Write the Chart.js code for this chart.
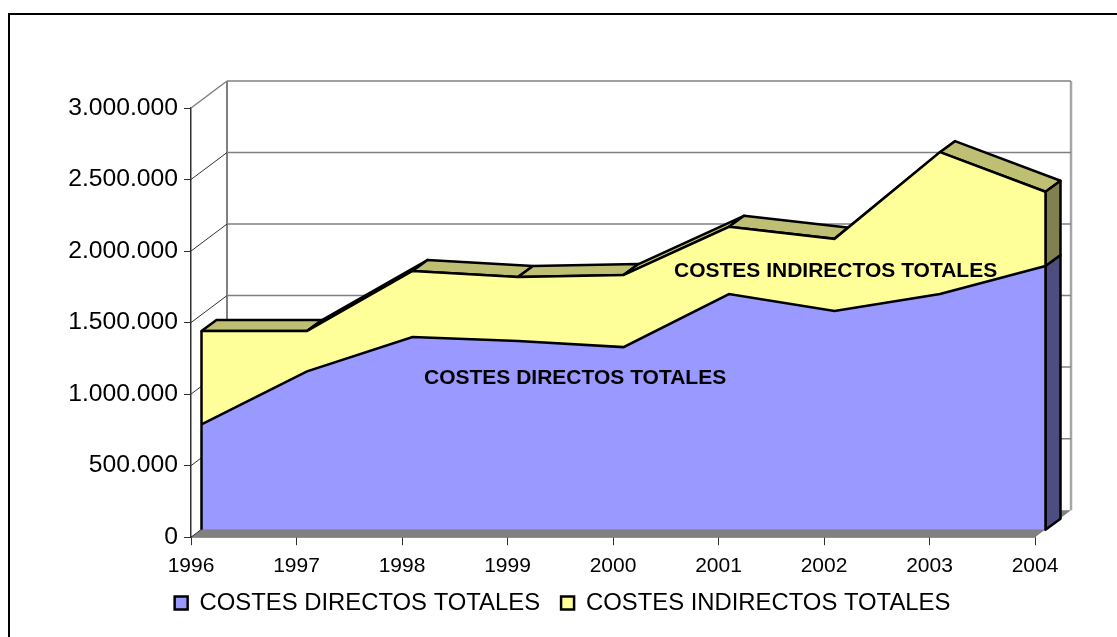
<!DOCTYPE html>
<html lang="es">
<head>
  <meta charset="UTF-8">
  <title>Costes totales</title>
  <script src="https://cdn.jsdelivr.net/npm/chart.js"></script>
  <style>
    html, body { margin: 0; padding: 0; background: #fff; overflow: hidden; }
    #frame { position: absolute; left: 8px; top: 13px; width: 1117px; height: 637px; border: 2px solid #000; box-sizing: border-box; }
    #wrap { position: absolute; left: 0; top: 0; width: 1117px; height: 637px; }
  </style>
</head>
<body>
  <div id="frame"></div>
  <div id="wrap"><canvas id="costes"></canvas></div>

  <script>
    const years = ['1996', '1997', '1998', '1999', '2000', '2001', '2002', '2003', '2004'];
    const costesDirectos = [736000, 1107000, 1346000, 1318000, 1276000, 1647000, 1528000, 1647000, 1843000];
    const costesIndirectos = [652000, 281000, 462000, 448000, 504000, 470000, 505000, 992000, 519000];
    const yTicks = [0, 500000, 1000000, 1500000, 2000000, 2500000, 3000000];

    // 3D look: wall depth, front of the areas, thickness of the areas
    const WALL = { x: 36, y: -27 };
    const FRONT = { x: 10.5, y: -7.5 };
    const SLAB = { x: 15, y: -11 };

    function formatEs(v) {
      return String(v).replace(/\B(?=(\d{3})+$)/g, '.');
    }

    function poly(ctx, pts, fill, stroke, lw) {
      ctx.beginPath();
      pts.forEach((p, i) => i ? ctx.lineTo(p[0], p[1]) : ctx.moveTo(p[0], p[1]));
      ctx.closePath();
      if (fill) { ctx.fillStyle = fill; ctx.fill(); }
      if (stroke) { ctx.strokeStyle = stroke; ctx.lineWidth = lw; ctx.lineJoin = 'round'; ctx.stroke(); }
    }

    function line(ctx, x1, y1, x2, y2, color, lw) {
      ctx.beginPath();
      ctx.moveTo(x1, y1);
      ctx.lineTo(x2, y2);
      ctx.strokeStyle = color;
      ctx.lineWidth = lw;
      ctx.stroke();
    }

    const box3d = {
      id: 'box3d',
      afterLayout(chart) {
        // legend is centred on the whole picture, not on the plot
        chart.legend.left = 45;
        chart.legend.right = 45 + 1035;
        chart.legend.top -= 12;
        chart.legend.bottom -= 12;
      },
      beforeDatasetsDraw(chart) {
        const ctx = chart.ctx;
        const { left, right, bottom } = chart.chartArea;
        const y = chart.scales.y;
        ctx.save();

        // floor
        poly(ctx, [[left, bottom], [right, bottom], [right + WALL.x, bottom + WALL.y], [left + WALL.x, bottom + WALL.y]], '#808080');

        // walls and grid
        line(ctx, left + WALL.x, bottom + WALL.y, left + WALL.x, y.getPixelForValue(3000000) + WALL.y, '#808080', 2);
        line(ctx, right + WALL.x, bottom + WALL.y, right + WALL.x, y.getPixelForValue(3000000) + WALL.y, '#a6a6a6', 2.5);
        yTicks.forEach(v => {
          const py = y.getPixelForValue(v);
          if (v > 0) line(ctx, left + WALL.x, py + WALL.y, right + WALL.x, py + WALL.y, '#808080', 1.5);
          line(ctx, left, py, left + WALL.x, py + WALL.y, v === 3000000 ? '#808080' : '#303030', v === 3000000 ? 1.5 : 1);
        });
        ctx.restore();

        // top faces and right side of each area, then the fronts shifted by FRONT
        const low = chart.getDatasetMeta(0).data;
        const top = chart.getDatasetMeta(1).data;
        ctx.save();
        ctx.translate(FRONT.x, FRONT.y);
        for (let i = 0; i < top.length - 1; i++) {
          const a = top[i], b = top[i + 1];
          poly(ctx, [[a.x, a.y], [b.x, b.y], [b.x + SLAB.x, b.y + SLAB.y], [a.x + SLAB.x, a.y + SLAB.y]], '#bfbf73', '#000', 2.5);
        }
        const n = top.length - 1;
        const ex = low[n].x, by = y.getPixelForValue(0);
        poly(ctx, [[ex, by], [ex, low[n].y], [ex + SLAB.x, low[n].y + SLAB.y], [ex + SLAB.x, by + SLAB.y]], '#4d4d80', '#000', 2.5);
        poly(ctx, [[ex, low[n].y], [ex, top[n].y], [ex + SLAB.x, top[n].y + SLAB.y], [ex + SLAB.x, low[n].y + SLAB.y]], '#808050', '#000', 2.5);
      },
      afterDatasetsDraw(chart) {
        const ctx = chart.ctx;
        const top = chart.getDatasetMeta(1).data;
        const y = chart.scales.y;
        const n = top.length - 1;
        const by = y.getPixelForValue(0);
        // side edges of the front face
        line(ctx, top[0].x, by, top[0].x, top[0].y, '#000', 2.5);
        line(ctx, top[n].x, by, top[n].x, top[n].y, '#000', 2.5);
        ctx.restore();

        // names written on the areas
        ctx.save();
        ctx.fillStyle = '#000';
        ctx.font = 'bold 21px "Liberation Sans", Arial, sans-serif';
        ctx.textBaseline = 'middle';
        ctx.fillText('COSTES DIRECTOS TOTALES', 424, 378);
        ctx.fillText('COSTES INDIRECTOS TOTALES', 674, 271);
        ctx.restore();
      }
    };

    new Chart(document.getElementById('costes'), {
      type: 'line',
      plugins: [box3d],
      data: {
        labels: years,
        datasets: [
          { label: 'COSTES DIRECTOS TOTALES', data: costesDirectos, backgroundColor: '#9999ff', borderColor: '#000', borderWidth: 2.5, fill: 'origin', pointRadius: 0, tension: 0, clip: false },
          { label: 'COSTES INDIRECTOS TOTALES', data: costesIndirectos, backgroundColor: '#ffff99', borderColor: '#000', borderWidth: 2.5, fill: '-1', pointRadius: 0, tension: 0, clip: false }
        ]
      },
      options: {
        responsive: true,
        maintainAspectRatio: false,
        animation: false,
        layout: { padding: { left: 0, right: 82, top: 108, bottom: 0 } },
        plugins: {
          tooltip: { enabled: false },
          legend: {
            position: 'bottom',
            labels: { boxWidth: 13, boxHeight: 13, padding: 21, color: '#000', font: { family: '"Liberation Sans", Arial, sans-serif', size: 23.85 } }
          }
        },
        scales: {
          x: {
            offset: false,
            grid: { drawOnChartArea: false, color: '#303030', tickLength: 8 },
            border: { color: '#303030', width: 1.5 },
            ticks: { color: '#000', maxRotation: 0, padding: 8, font: { family: '"Liberation Sans", Arial, sans-serif', size: 21 } },
            afterFit(scale) { scale.height = 45; }
          },
          y: {
            stacked: true,
            min: 0,
            max: 3000000,
            grid: { drawOnChartArea: false, color: '#303030', tickLength: 7 },
            border: { color: '#303030', width: 1.5 },
            afterBuildTicks(scale) { scale.ticks = yTicks.map(v => ({ value: v })); },
            ticks: { color: '#000', padding: 6, callback: formatEs, font: { family: '"Liberation Sans", Arial, sans-serif', size: 24.7 } },
            afterFit(scale) { scale.width = 191; }
          }
        }
      }
    });
  </script>
</body>
</html>
